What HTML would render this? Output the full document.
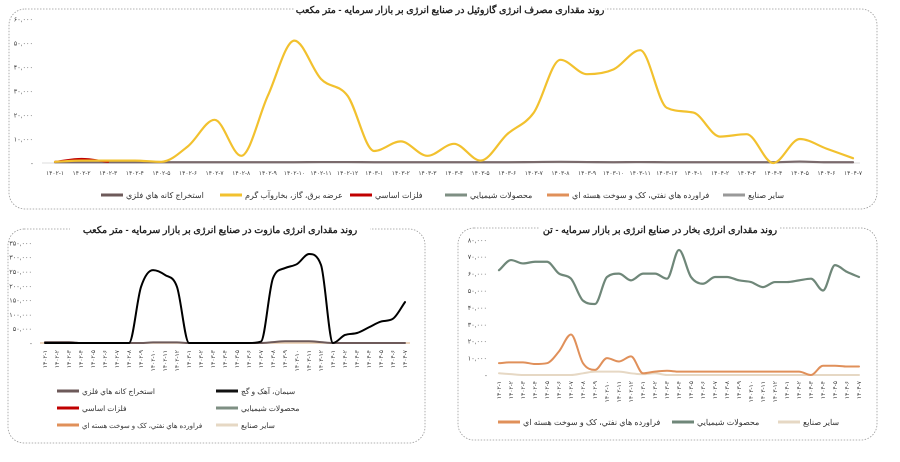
<!DOCTYPE html>
<html><head><meta charset="utf-8">
<style>
html,body{margin:0;padding:0;background:#fff;}
body{width:900px;height:457px;overflow:hidden;font-family:"Liberation Sans","Noto Sans CJK SC",sans-serif;}
svg text{font-family:"Liberation Sans","Noto Sans CJK SC",sans-serif;}
</style></head><body>
<svg id="s" width="900" height="457" viewBox="0 0 900 457" xmlns="http://www.w3.org/2000/svg"></svg>
<script>
// ---------- data ----------
const months = [];
for (const y of ['۱۴۰۲','۱۴۰۳']) for (let m=1;m<=12;m++) months.push(y+'-'+['۱','۲','۳','۴','۵','۶','۷','۸','۹','۱۰','۱۱','۱۲'][m-1]);
for (let m=1;m<=7;m++) months.push('۱۴۰۴-'+['۱','۲','۳','۴','۵','۶','۷'][m-1]);

// Chart 1: gasoil (thousand m3)
const gasPower = [0.5,1,1,1,0.5,7,18,3,28,51,35,28,5,9,3,8,1,12,21,43,37,39,47,23,21,11,12,0,10,6,2];
const gasMetals = [0.5,1.7,0.5];
const gasMining = [0.3,0.3,0.3,0.3,0.3,0.3,0.3,0.3,0.3,0.3,0.4,0.4,0.3,0.3,0.3,0.3,0.3,0.3,0.4,0.5,0.4,0.3,0.4,0.3,0.3,0.3,0.3,0.3,0.6,0.3,0.3];
const gasTicks = ['-','۱۰,۰۰۰','۲۰,۰۰۰','۳۰,۰۰۰','۴۰,۰۰۰','۵۰,۰۰۰','۶۰,۰۰۰'];

// Chart 2: mazut (thousand m3)
const mazCement = [0,0,0,0,0,0,0,0,196,255,238,196,0,0,0,0,0,0,5,227,262,276,311,273,0,28,35,55,75,85,143];
const mazMining = [3,3,3,0,0,0,0,0,0,2,2,2,0,0,0,0,0,0,0,3,6,6,6,3,0,0,0,0,0,0,0];
const mazTicks = ['-','۵۰,۰۰۰','۱۰۰,۰۰۰','۱۵۰,۰۰۰','۲۰۰,۰۰۰','۲۵۰,۰۰۰','۳۰۰,۰۰۰','۳۵۰,۰۰۰'];

// Chart 3: steam (thousand ton)
const stChem = [62,68,66,67,67,60,57,44,42,58,60,56,60,60,57,74,58,54,58,58,56,55,52,55,55,56,57,50,65,61,58];
const stOil = [7,7.5,7.5,6.5,7,14,24,7,3,10,8,11,1,2,2.5,2,2,2,2,2,2,2,2,2,2,2,0,5.5,5.5,5,5];
const stOther = [1,0.5,0,0,0,0,0,1,2,2,2,1,0.5,1,0,0,0,0,0,0,0,0,0,0,0,0,0,0,0,0,0];
const stTicks = ['-','۱۰,۰۰۰','۲۰,۰۰۰','۳۰,۰۰۰','۴۰,۰۰۰','۵۰,۰۰۰','۶۰,۰۰۰','۷۰,۰۰۰','۸۰,۰۰۰'];

// ---------- helpers ----------
const S = document.getElementById('s');
const NS = 'http://www.w3.org/2000/svg';
function mk(tag, attrs, parent){const e=document.createElementNS(NS,tag);for(const k in attrs)e.setAttribute(k,attrs[k]);(parent||S).appendChild(e);return e;}
// monotone cubic interpolation (no overshoot)
function smooth(pts){
 const n=pts.length; if(n<2) return '';
 const dx=[],dy=[],m=[],t=[];
 for(let i=0;i<n-1;i++){dx[i]=pts[i+1][0]-pts[i][0];dy[i]=pts[i+1][1]-pts[i][1];m[i]=dy[i]/dx[i];}
 t[0]=m[0];t[n-1]=m[n-2];
 for(let i=1;i<n-1;i++){ if(m[i-1]*m[i]<=0) t[i]=0; else t[i]=(m[i-1]+m[i])/2; }
 for(let i=0;i<n-1;i++){ if(m[i]===0){t[i]=0;t[i+1]=0;continue;} const a=t[i]/m[i],b=t[i+1]/m[i],h=a*a+b*b; if(h>9){const s=3/Math.sqrt(h);t[i]=s*a*m[i];t[i+1]=s*b*m[i];} }
 let d='M'+pts[0][0]+','+pts[0][1];
 for(let i=0;i<n-1;i++){const h=dx[i]/3;d+=' C'+(pts[i][0]+h)+','+(pts[i][1]+t[i]*h)+' '+(pts[i+1][0]-h)+','+(pts[i+1][1]-t[i+1]*h)+' '+pts[i+1][0]+','+pts[i+1][1];}
 return d;}
function series(g, data, xf, yf, color, w, name){const p=mk('path',{d:smooth(data.map((v,i)=>[xf(i),yf(v)])),fill:'none',stroke:color,'stroke-width':w,'stroke-linejoin':'round','stroke-linecap':'round'},g);

}
function box(x,y,w,h,name){const r=mk('rect',{x:x,y:y,width:w,height:h,rx:16,fill:'none',stroke:'#999','stroke-width':0.8,'stroke-dasharray':'1.5,1.5'});

}
function title(x,y,txt,name,bgw){mk('rect',{x:x-bgw/2,y:y-10,width:bgw,height:14,fill:'#fff'});const t=mk('text',{x:x,y:y,'text-anchor':'middle','font-size':9.5,'font-weight':'bold',fill:'#222'});t.textContent=txt;

}
function leg(parent,x,y,color,txt,name,fs){const gg=mk('g',{},parent);
 
 
 mk('line',{x1:x,y1:y,x2:x+22,y2:y,stroke:color,'stroke-width':3},gg);
 const t=mk('text',{x:x+25,y:y+3,'font-size':fs,fill:'#333','text-anchor':'start'},gg);t.textContent=txt;}

// ---------- Chart 1 ----------
box(9,9,868,200,'gasoil-chart-frame');
title(450,13,'روند مقداری مصرف انرژی گازوئیل در صنایع انرژی بر بازار سرمایه - متر مکعب','gasoil-chart-title',310);
{
 const g=mk('g',{});
 
 
 const x=i=>55+i*26.6, y=v=>163-v*2.4;
 gasTicks.forEach((t,i)=>{const e=mk('text',{x:33,y:y(i*10)+2.5,'text-anchor':'end','font-size':6.5,fill:'#444'},g);e.textContent=t;
  
  });
 mk('line',{x1:42,y1:163,x2:860,y2:163,stroke:'#ddd','stroke-width':1},g);
 months.forEach((m,i)=>{const e=mk('text',{x:x(i),y:175,'text-anchor':'middle','font-size':6,fill:'#444',direction:'ltr'},g);e.textContent=m;
  
  });
 series(g,gasMining,x,y,'#7a6a6c',2.2,'gasoil-line-mining');
 series(g,gasMetals,x,y,'#c00000',2,'gasoil-line-metals');
 series(g,gasPower,x,y,'#f2c12e',2.2,'gasoil-line-power');
 const ly=195;
 leg(g,101,ly,'#6d5a5a','استخراج کانه هاي فلزي','legend-mining',8);
 leg(g,220,ly,'#f2c12e','عرضه برق، گاز، بخاروآب گرم','legend-power',8);
 leg(g,350,ly,'#c00000','فلزات اساسي','legend-metals',8);
 leg(g,445,ly,'#7e8f83','محصولات شيميايي','legend-chemicals',8);
 leg(g,547,ly,'#e0905a','فراورده هاي نفتي، کک و سوخت هسته اي','legend-oil',8);
 leg(g,723,ly,'#999','ساير صنايع','legend-other',8);
}

// ---------- Chart 2 ----------
box(8,229,417,214,'mazut-chart-frame');
title(220,233,'روند مقداری انرژی مازوت  در صنایع انرژی بر بازار سرمایه - متر مکعب','mazut-chart-title',300);
{
 const g=mk('g',{});
 
 
 const x=i=>45+i*12, y=v=>343-v*0.286;
 mazTicks.forEach((t,i)=>{const e=mk('text',{x:32,y:y(i*50)+2.5,'text-anchor':'end','font-size':6.5,fill:'#444'},g);e.textContent=t;
  
  });
 mk('line',{x1:40,y1:343,x2:410,y2:343,stroke:'#e8c9a8','stroke-width':1.5},g);
 months.forEach((m,i)=>{const e=mk('text',{x:0,y:0,'text-anchor':'end','font-size':6,fill:'#444',transform:'translate('+(x(i)+2)+',350) rotate(-90)',direction:'ltr'},g);e.textContent=m;
  
  });
 series(g,mazMining,x,y,'#6d5a5a',2,'mazut-line-mining');
 series(g,mazCement,x,y,'#000',2,'mazut-line-cement');
 leg(g,57,391,'#6d5a5a','استخراج کانه هاي فلزي','legend-mining',7.5);
 leg(g,216,391,'#111','سيمان، آهک و گچ','legend-cement',7.5);
 leg(g,57,408,'#c00000','فلزات اساسي','legend-metals',7.5);
 leg(g,216,408,'#7e8f83','محصولات شيميايي','legend-chemicals',7.5);
 leg(g,57,425,'#e0905a','فراورده هاي نفتي، کک و سوخت هسته اي','legend-oil',7);
 leg(g,216,425,'#e6d8c4','ساير صنايع','legend-other',7.5);
}

// ---------- Chart 3 ----------
box(458,228,419,212,'steam-chart-frame');
title(660,233,'روند مقداری انرژی بخار در صنایع انرژی بر بازار سرمایه - تن','steam-chart-title',240);
{
 const g=mk('g',{});
 
 
 const x=i=>499+i*12, y=v=>375-v*1.69;
 stTicks.forEach((t,i)=>{const e=mk('text',{x:487,y:y(i*10)+2.5,'text-anchor':'end','font-size':6.5,fill:'#444'},g);e.textContent=t;
  
  });
 months.forEach((m,i)=>{const e=mk('text',{x:0,y:0,'text-anchor':'end','font-size':6,fill:'#444',transform:'translate('+(x(i)+2)+',381) rotate(-90)',direction:'ltr'},g);e.textContent=m;
  
  });
 series(g,stOther,x,y,'#e6d8c4',2,'steam-line-other');
 series(g,stOil,x,y,'#e0905a',2,'steam-line-oil');
 series(g,stChem,x,y,'#6f8779',2.2,'steam-line-chemicals');
 leg(g,498,422,'#e0905a','فراورده هاي نفتي، کک و سوخت هسته اي','legend-oil',8);
 leg(g,672,422,'#6f8779','محصولات شيميايي','legend-chemicals',8);
 leg(g,778,422,'#e6d8c4','ساير صنايع','legend-other',8);
}
</script>
</body></html>
